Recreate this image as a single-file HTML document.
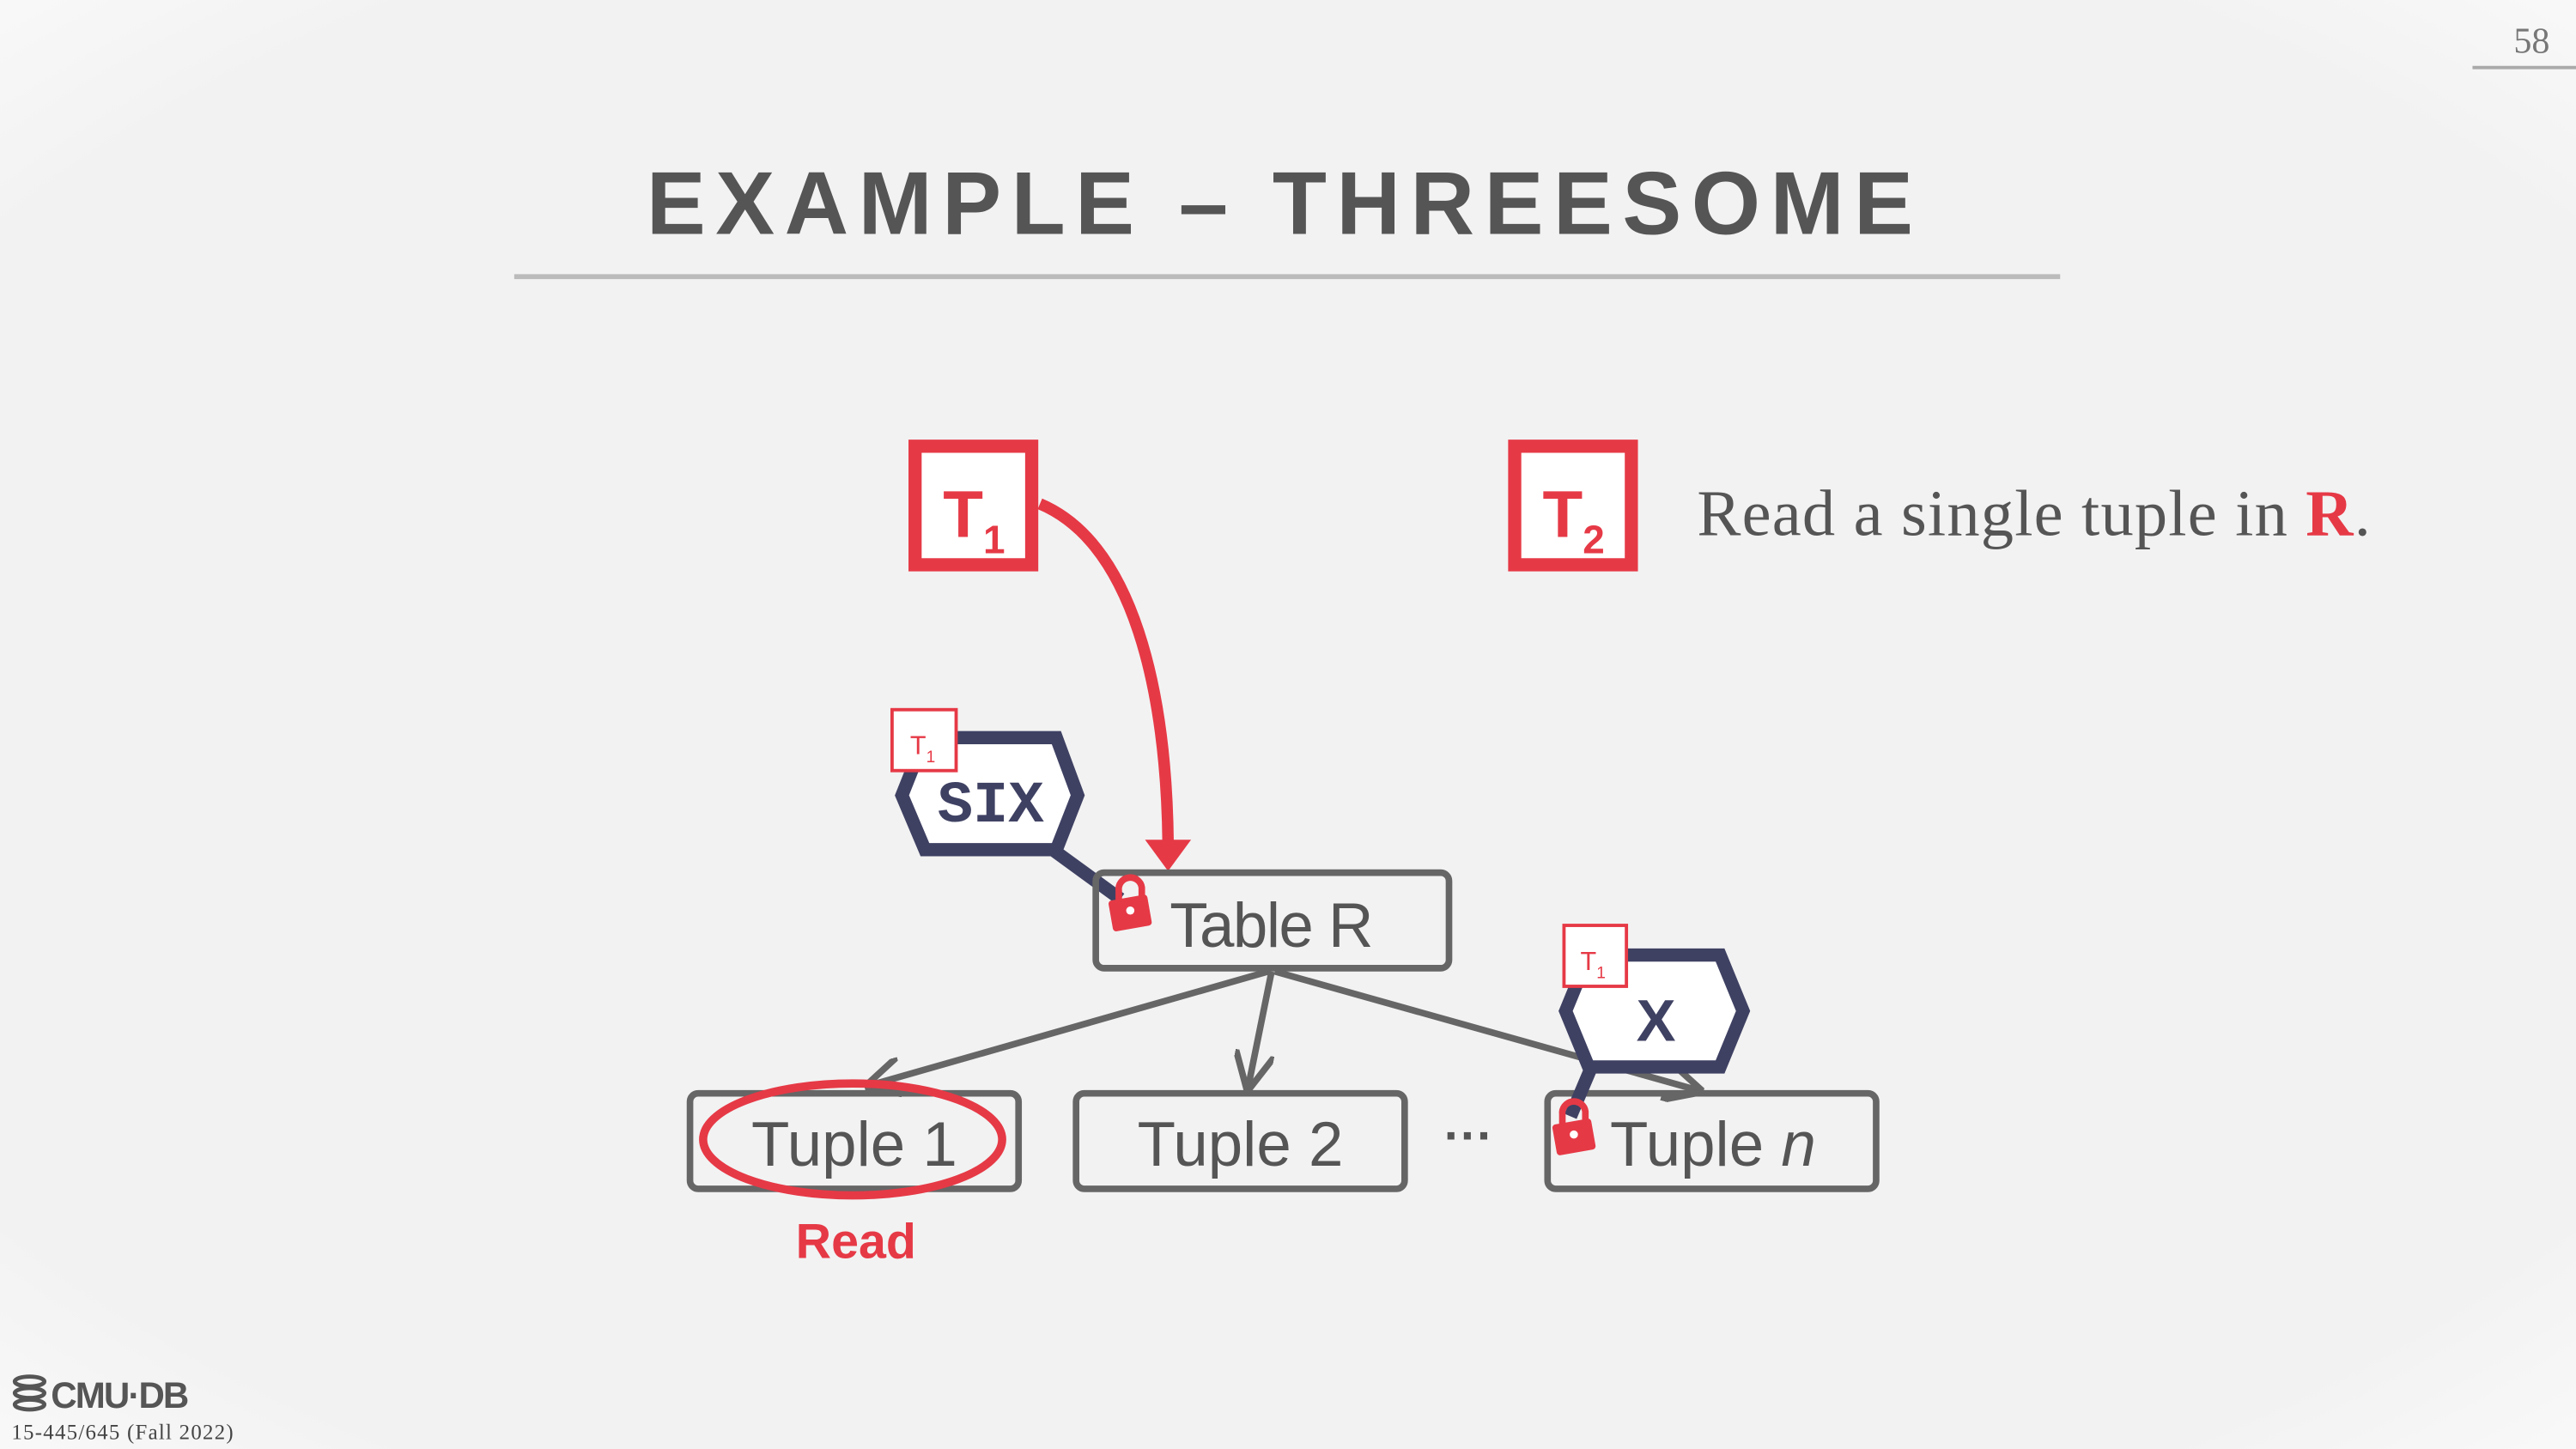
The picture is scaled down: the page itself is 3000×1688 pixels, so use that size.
<!DOCTYPE html>
<html><head><meta charset="utf-8"><style>
html,body{margin:0;padding:0;background:#f2f2f2;}
svg{display:block;}
</style></head><body>
<svg width="3000" height="1688" viewBox="0 0 1568 880" preserveAspectRatio="none" xmlns="http://www.w3.org/2000/svg">
<defs>
<radialGradient id="bg" cx="50%" cy="50%" r="75%">
<stop offset="80%" stop-color="#f2f2f2"/><stop offset="100%" stop-color="#fbfbfb"/>
</radialGradient>
<marker id="ah" markerWidth="6" markerHeight="6" refX="5" refY="3" orient="auto" markerUnits="strokeWidth"><path d="M0,0 L6,3 L0,6" fill="none" stroke="#666" stroke-width="1"/></marker>
</defs>
<rect x="0" y="0" width="1568" height="880" fill="url(#bg)"/>
<text x="1552" y="32" text-anchor="end" font-family="Liberation Serif, serif" font-size="22" fill="#777">58</text>
<line x1="1505" y1="41" x2="1568" y2="41" stroke="#aaa" stroke-width="2"/>
<text x="782" y="142" text-anchor="middle" font-family="Liberation Sans, sans-serif" font-weight="bold" font-size="54" letter-spacing="6" fill="#555">EXAMPLE – THREESOME</text>
<line x1="313" y1="168" x2="1254" y2="168" stroke="#bbb" stroke-width="3"/>

<g>
<rect x="557" y="271" width="71" height="72" fill="#fff" stroke="#e63946" stroke-width="8"/>
<text x="574" y="326" font-family="Liberation Sans, sans-serif" font-weight="bold" font-size="40" fill="#e63946">T<tspan font-size="24" dy="10">1</tspan></text>
</g>
<g>
<rect x="922" y="271" width="71" height="72" fill="#fff" stroke="#e63946" stroke-width="8"/>
<text x="939" y="326" font-family="Liberation Sans, sans-serif" font-weight="bold" font-size="40" fill="#e63946">T<tspan font-size="24" dy="10">2</tspan></text>
</g>
<text x="1033" y="325" textLength="410" font-family="Liberation Serif, serif" font-size="40" fill="#555">Read a single tuple in <tspan font-weight="bold" fill="#e63946">R</tspan>.</text>

<path d="M633,306 C690,330 710,420 711,512" fill="none" stroke="#e63946" stroke-width="7"/>
<polygon points="697,510 725,510 711,529" fill="#e63946"/>

<line x1="638" y1="514" x2="682" y2="546" stroke="#3f4163" stroke-width="8"/>
<polygon points="549,483 563,448 643,448 656,483 643,516 563,516" fill="#fff" stroke="#3f4163" stroke-width="8"/>
<text x="603" y="499" text-anchor="middle" font-family="Liberation Mono, monospace" font-weight="bold" font-size="36" fill="#3f4163">SIX</text>
<g>
<rect x="543" y="431" width="39" height="37" fill="#fff" stroke="#e63946" stroke-width="2"/>
<text x="554" y="458" font-family="Liberation Sans, sans-serif" font-size="16" fill="#e63946">T<tspan font-size="10" dy="5">1</tspan></text>
</g>

<line x1="772" y1="590" x2="530" y2="659" stroke="#666" stroke-width="4" marker-end="url(#ah)"/>
<line x1="774" y1="590" x2="760" y2="659" stroke="#666" stroke-width="4" marker-end="url(#ah)"/>
<line x1="776" y1="590" x2="1033" y2="662" stroke="#666" stroke-width="4" marker-end="url(#ah)"/>

<rect x="667" y="530" width="215" height="58" rx="5" fill="none" stroke="#666" stroke-width="4"/>
<text x="712" y="575" textLength="124" font-family="Liberation Sans, sans-serif" font-size="38" fill="#555">Table R</text>
<g>
<path d="M681,548 v-7 a7,7 0 0 1 14,-2 v7" fill="none" stroke="#e63946" stroke-width="4"/>
<rect x="676" y="545" width="24" height="19" rx="2" fill="#e63946" transform="rotate(-10 688 555)"/>
<circle cx="688" cy="553" r="2.5" fill="#fff"/>
</g>

<rect x="420" y="664" width="200" height="58" rx="5" fill="none" stroke="#666" stroke-width="4"/>
<text x="520" y="708" text-anchor="middle" font-family="Liberation Sans, sans-serif" font-size="38" fill="#555">Tuple 1</text>
<rect x="655" y="664" width="200" height="58" rx="5" fill="none" stroke="#666" stroke-width="4"/>
<text x="755" y="708" text-anchor="middle" font-family="Liberation Sans, sans-serif" font-size="38" fill="#555">Tuple 2</text>
<text x="894" y="700" text-anchor="middle" font-family="Liberation Sans, sans-serif" font-weight="bold" font-size="30" fill="#555">···</text>
<rect x="942" y="664" width="200" height="58" rx="5" fill="none" stroke="#666" stroke-width="4"/>
<text x="980" y="708" font-family="Liberation Sans, sans-serif" font-size="38" fill="#555">Tuple <tspan font-style="italic">n</tspan></text>

<line x1="970" y1="645" x2="956" y2="678" stroke="#3f4163" stroke-width="8"/>
<polygon points="953,614 967,580 1047,580 1061,614 1047,648 967,648" fill="#fff" stroke="#3f4163" stroke-width="8"/>
<text x="1008" y="632" text-anchor="middle" font-family="Liberation Sans, sans-serif" font-weight="bold" font-size="36" fill="#3f4163">X</text>
<g>
<rect x="952" y="562" width="38" height="37" fill="#fff" stroke="#e63946" stroke-width="2"/>
<text x="962" y="589" font-family="Liberation Sans, sans-serif" font-size="16" fill="#e63946">T<tspan font-size="10" dy="5">1</tspan></text>
</g>
<g>
<path d="M951,684 v-7 a7,7 0 0 1 14,-2 v7" fill="none" stroke="#e63946" stroke-width="4"/>
<rect x="946" y="681" width="24" height="19" rx="2" fill="#e63946" transform="rotate(-10 958 690)"/>
<circle cx="958" cy="689" r="2.5" fill="#fff"/>
</g>

<ellipse cx="519" cy="692" rx="91" ry="34" fill="none" stroke="#e63946" stroke-width="5"/>
<text x="521" y="764" text-anchor="middle" font-family="Liberation Sans, sans-serif" font-weight="bold" font-size="30" fill="#e63946">Read</text>

<g>
<ellipse cx="18" cy="839" rx="9" ry="3" fill="none" stroke="#555" stroke-width="2.5"/>
<ellipse cx="18" cy="846" rx="9" ry="3" fill="none" stroke="#555" stroke-width="2.5"/>
<ellipse cx="18" cy="853" rx="9" ry="3" fill="none" stroke="#555" stroke-width="2.5"/>
<text x="31" y="855" font-family="Liberation Sans, sans-serif" font-weight="bold" font-size="22" fill="#555" letter-spacing="-1">CMU·DB</text>
</g>
<text x="7" y="874" textLength="135" font-family="Liberation Serif, serif" font-size="13" fill="#444">15-445/645 (Fall 2022)</text>
</svg>
</body></html>
